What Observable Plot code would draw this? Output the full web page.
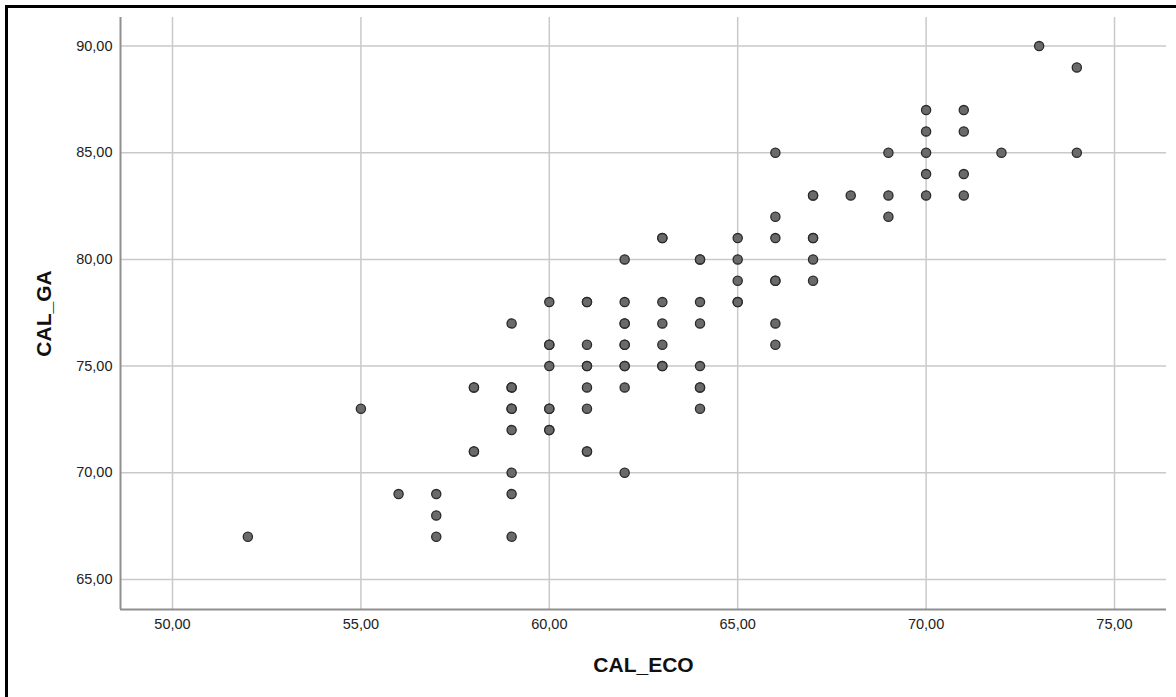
<!DOCTYPE html>
<html>
<head>
<meta charset="utf-8">
<script src="https://cdn.jsdelivr.net/npm/d3@7"></script>
<script src="https://cdn.jsdelivr.net/npm/@observablehq/plot@0.6"></script>
<style>
  html, body { margin: 0; padding: 0; background: #fff; }
  #wrap { position: relative; width: 1176px; height: 697px; overflow: hidden; }
  #frame { position: absolute; left: 5px; top: 5px; width: 1300px; height: 900px;
           border-left: 3px solid #000; border-top: 3px solid #000; pointer-events: none; }
  svg { font-family: "Liberation Sans", Arial, sans-serif; }
  g[aria-label="x-axis tick label"] text, g[aria-label="y-axis tick label"] text { fill: #222; }
  g[aria-label="x-axis label"] text, g[aria-label="y-axis label"] text { font-weight: bold; font-size: 21px; fill: #111; }
</style>
</head>
<body>
<div id="wrap"><div id="chart"></div><div id="frame"></div></div>
<script>
const calEco = [
  52, 55, 56, 57, 57, 57,
  58, 58, 58, 58,
  59, 59, 59, 59, 59, 59, 59, 59, 59,
  60, 60, 60, 60, 60, 60, 60, 60,
  61, 61, 61, 61, 61, 61, 61, 61, 61,
  62, 62, 62, 62, 62, 62, 62, 62, 62, 62,
  63, 63, 63, 63, 63, 63, 63,
  64, 64, 64, 64, 64, 64, 64, 64,
  65, 65, 65, 65, 65,
  66, 66, 66, 66, 66, 66, 66,
  67, 67, 67, 67, 67, 67,
  68, 69, 69, 69,
  70, 70, 70, 70, 70,
  71, 71, 71, 71,
  72, 73, 74, 74
];
const calGa = [
  67, 73, 69, 69, 68, 67,
  74, 74, 71, 71,
  77, 74, 74, 73, 73, 72, 70, 69, 67,
  78, 76, 76, 75, 73, 73, 72, 72,
  78, 78, 76, 75, 75, 74, 73, 71, 71,
  80, 78, 77, 77, 76, 76, 75, 75, 74, 70,
  81, 81, 78, 77, 76, 75, 75,
  80, 80, 78, 77, 75, 74, 74, 73,
  81, 80, 79, 78, 78,
  85, 82, 81, 79, 79, 77, 76,
  83, 83, 81, 81, 80, 79,
  83, 85, 83, 82,
  87, 86, 85, 84, 83,
  87, 86, 84, 83,
  85, 90, 89, 85
];
const xTicks = [50, 55, 60, 65, 70, 75];
const yTicks = [65, 70, 75, 80, 85, 90];
const xLabel = "CAL_ECO";
const yLabel = "CAL_GA";

const data = calEco.map((x, i) => ({x, y: calGa[i]}));
const fmt = d => d.toFixed(2).replace(".", ",");
const xDomain = [48.62, 76.38];
const yDomain = [63.59, 91.34];

const chart = Plot.plot({
  width: 1176,
  height: 697,
  marginLeft: 120,
  marginRight: 10,
  marginTop: 17,
  marginBottom: 88,
  style: {fontSize: "14.5px", fontFamily: "'Liberation Sans', Arial, sans-serif", background: "#fff"},
  x: {domain: xDomain},
  y: {domain: yDomain},
  marks: [
    Plot.gridX(xTicks, {stroke: "#c9c9c9", strokeOpacity: 1, strokeWidth: 1.5}),
    Plot.gridY(yTicks, {stroke: "#c9c9c9", strokeOpacity: 1, strokeWidth: 1.5}),
    Plot.ruleX([xDomain[0]], {stroke: "#8f8f8f", strokeWidth: 2}),
    Plot.ruleY([yDomain[0]], {stroke: "#8f8f8f", strokeWidth: 2}),
    Plot.axisX(xTicks, {tickSize: 0, tickPadding: 9, tickFormat: fmt, label: xLabel, labelAnchor: "center", labelOffset: 62, labelArrow: "none"}),
    Plot.axisY(yTicks, {tickSize: 0, tickPadding: 8, tickFormat: fmt, label: yLabel, labelAnchor: "center", labelOffset: 84, labelArrow: "none"}),
    Plot.dot(data, {x: "x", y: "y", r: 4.6, fill: "#6a6a6a", stroke: "#2a2a2a", strokeWidth: 1.3})
  ]
});
document.getElementById("chart").appendChild(chart);
</script>
</body>
</html>
